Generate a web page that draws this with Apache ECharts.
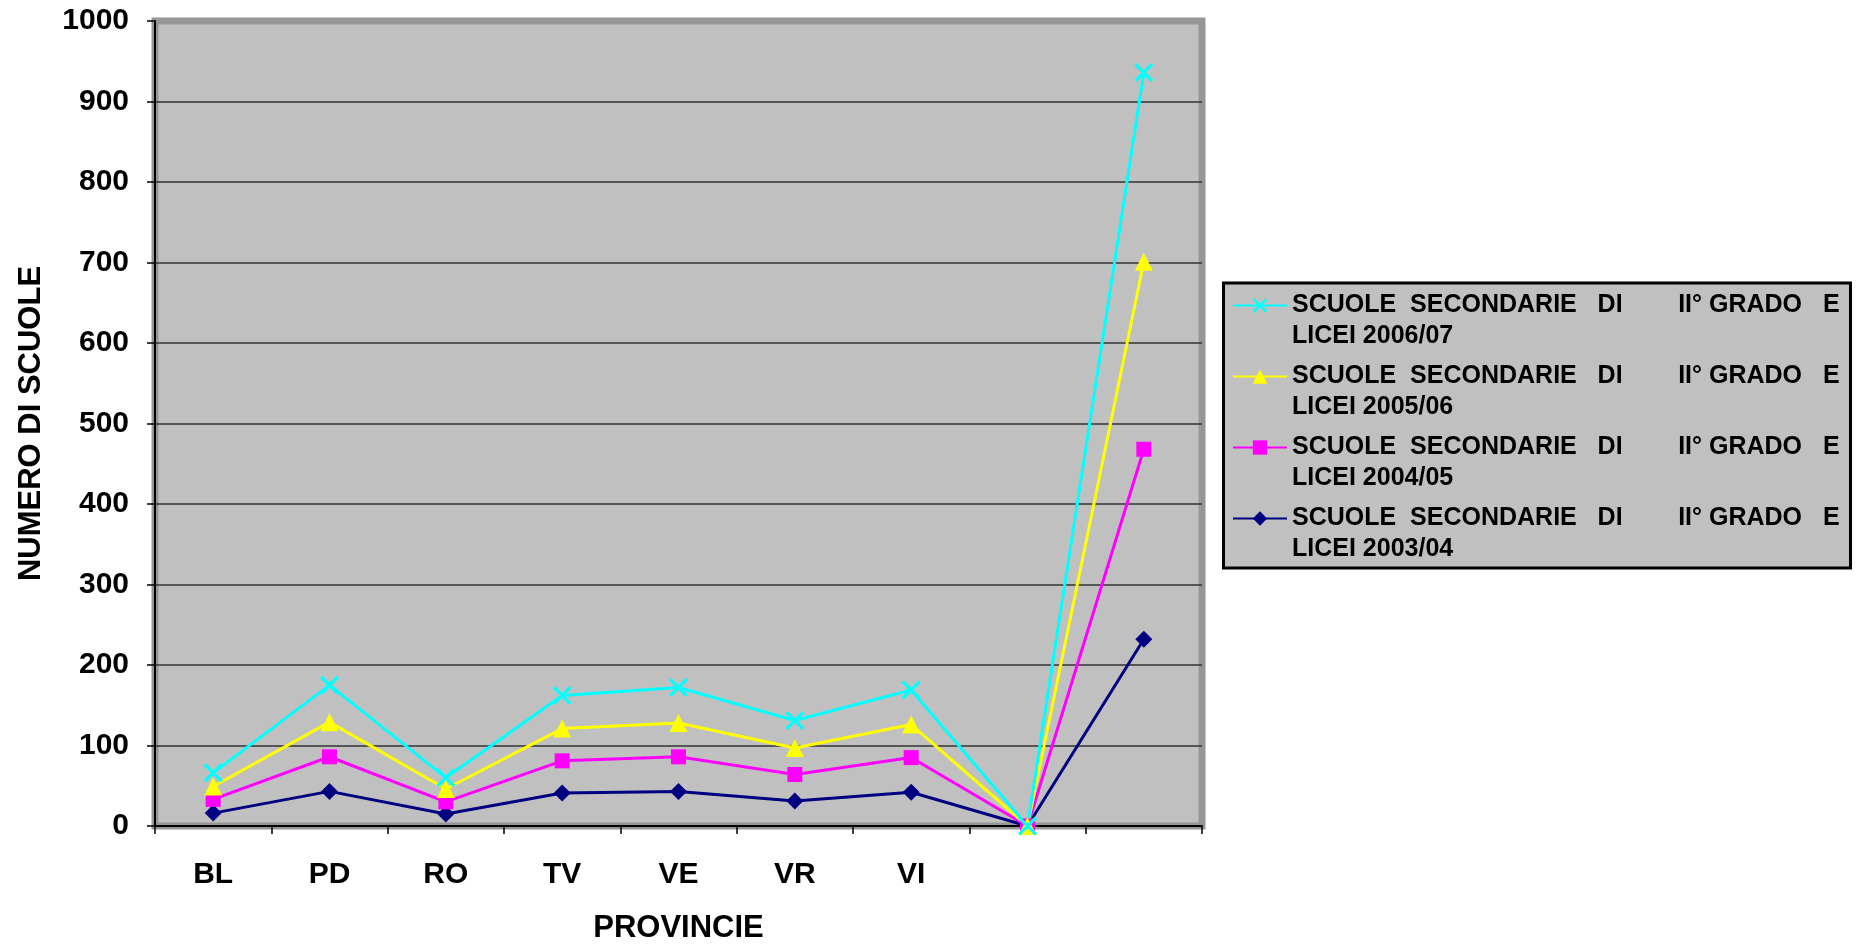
<!DOCTYPE html>
<html>
<head>
<meta charset="utf-8">
<title>Scuole secondarie di II grado</title>
<script src="https://cdn.jsdelivr.net/npm/echarts@6/dist/echarts.min.js"></script>
<style>
  html, body { margin: 0; padding: 0; background: #fff; }
  #chart { width: 1859px; height: 949px; }
</style>
</head>
<body>
<div id="chart"></div>
<script>
// province (the last two columns have no label: zero row and total)
var province = ['BL', 'PD', 'RO', 'TV', 'VE', 'VR', 'VI', ' ', '  '];

var head = 'SCUOLE  SECONDARIE   DI        II° GRADO   E\n';
var nomi = [
  head + 'LICEI 2006/07',
  head + 'LICEI 2005/06',
  head + 'LICEI 2004/05',
  head + 'LICEI 2003/04'
];

var scuole0607 = [66, 175, 60, 162, 172, 131, 169, 0, 936];
var scuole0506 = [49, 129, 46, 121, 128, 97, 126, 0, 701];
var scuole0405 = [33, 86, 30, 81, 86, 64, 85, 0, 468];
var scuole0304 = [16, 43, 15, 41, 43, 31, 42, 0, 232];

var yTicks = { min: 0, max: 1000, interval: 100 };

var font = "'Liberation Sans', Arial, sans-serif";
var crossPath = 'path://M0,1.2L1.2,0L5,3.8L8.8,0L10,1.2L6.2,5L10,8.8L8.8,10L5,6.2L1.2,10L0,8.8L3.8,5Z';

function serie(name, data, color, symbol, size) {
  return {
    name: name,
    type: 'line',
    data: data,
    symbol: symbol,
    symbolSize: size,
    showSymbol: true,
    animation: false,
    lineStyle: { color: color, width: 3 },
    itemStyle: { color: color, opacity: 1 },
    emphasis: { disabled: true }
  };
}

var chart = echarts.init(document.getElementById('chart'));

chart.setOption({
  backgroundColor: '#ffffff',
  animation: false,
  textStyle: { fontFamily: font },
  grid: {
    left: 155,
    top: 21,
    right: 657,
    bottom: 118,
    show: true,
    backgroundColor: '#c0c0c0',
    borderColor: '#969696',
    borderWidth: 7
  },
  graphic: [{
    type: 'rect',
    z: 1,
    shape: { x: 1223.5, y: 283, width: 627, height: 285 },
    style: { fill: '#c0c0c0', stroke: '#000', lineWidth: 3 }
  }],
  legend: {
    orient: 'vertical',
    left: 1232,
    top: 259,
    padding: 0,
    itemWidth: 54,
    itemHeight: 18,
    itemGap: -22,
    selectedMode: false,
    // blank first line keeps the marker level with the first text line
    formatter: function (n) { return ' \n' + n; },
    textStyle: {
      fontFamily: font,
      fontWeight: 'bold',
      fontSize: 25,
      lineHeight: 31,
      color: '#000'
    },
    data: nomi
  },
  xAxis: {
    type: 'category',
    data: province,
    boundaryGap: true,
    name: 'PROVINCIE',
    nameLocation: 'middle',
    nameGap: 87,
    nameTextStyle: { fontFamily: font, fontWeight: 'bold', fontSize: 31, color: '#000' },
    axisLine: { show: true, lineStyle: { color: '#000', width: 2 } },
    axisTick: { show: true, length: 8, interval: 0, lineStyle: { color: '#000', width: 1.5 } },
    axisLabel: { interval: 0, margin: 34, fontFamily: font, fontWeight: 'bold', fontSize: 30, color: '#000' },
    splitLine: { show: false }
  },
  yAxis: {
    type: 'value',
    min: yTicks.min,
    max: yTicks.max,
    interval: yTicks.interval,
    name: 'NUMERO DI SCUOLE',
    nameLocation: 'middle',
    nameGap: 108,
    nameTextStyle: { fontFamily: font, fontWeight: 'bold', fontSize: 31, color: '#000' },
    axisLine: { show: true, lineStyle: { color: '#000', width: 2 } },
    axisTick: { show: true, length: 8, lineStyle: { color: '#000', width: 1.5 } },
    axisLabel: {
      margin: 26, fontFamily: font, fontWeight: 'bold', fontSize: 30, color: '#000',
      formatter: function (v) { return String(v); }
    },
    splitLine: { show: true, showMinLine: false, showMaxLine: false, lineStyle: { color: '#333', width: 1.5 } }
  },
  series: [
    serie(nomi[3], scuole0304, '#000080', 'diamond', 17),
    serie(nomi[2], scuole0405, '#ff00ff', 'rect', 15),
    serie(nomi[1], scuole0506, '#ffff00', 'triangle', 18),
    serie(nomi[0], scuole0607, '#00ffff', crossPath, 19)
  ]
});
</script>
</body>
</html>
